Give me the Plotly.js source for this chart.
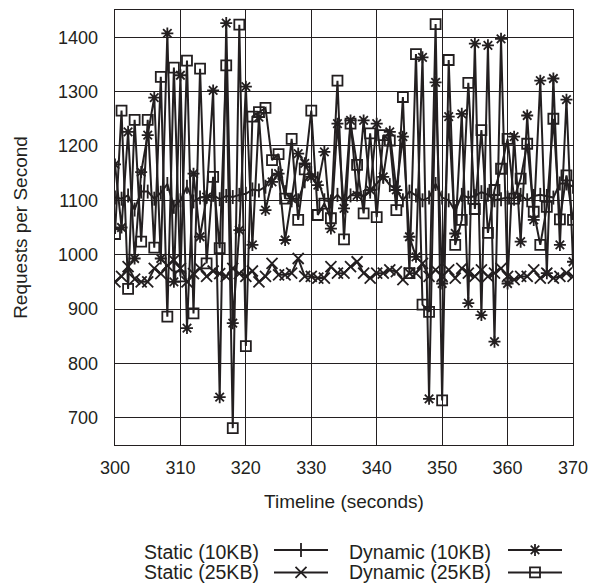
<!DOCTYPE html>
<html>
<head>
<meta charset="utf-8">
<script src="https://cdn.plot.ly/plotly-3.0.1.min.js"></script>
<style>
html,body{margin:0;padding:0;background:#fff;}
#chart{width:607px;height:587px;}
</style>
</head>
<body>
<div id="chart"></div>
<script>
// Time axis (seconds)
const seconds = [];
for (let s = 300; s <= 370; s++) seconds.push(s);

const static10 = [1105,1103,1109,1083,1116,1116,1103,1114,1130,1088,1100,1125,1098,1105,1106,1110,1102,1108,1106,1110,1112,1120,1118,1125,1145,1150,1115,1100,1100,1135,1150,1140,1100,1098,1110,1097,1109,1116,1106,1116,1131,1143,1128,1119,1100,1116,1109,1100,1105,1130,1105,1100,1080,1110,1105,1108,1115,1110,1100,1102,1105,1103,1110,1100,1108,1110,1108,1105,1131,1131,1125];

const static25 = [950,960,978,955,950,950,975,965,980,990,975,950,965,975,960,970,965,960,975,965,960,970,950,960,984,963,963,966,993,960,960,957,957,978,966,966,978,987,966,957,966,966,972,969,954,966,966,984,960,972,960,972,957,975,966,960,972,960,966,975,960,954,960,960,972,957,966,957,960,966,960];

const dynamic10 = [1166,1050,1226,993,1152,1220,1289,993,1407,950,1330,865,1149,1033,1106,1302,738,1426,874,1045,1309,1018,1253,1082,1134,1149,1027,1103,1186,1168,1143,1128,1189,1048,1241,1085,1247,1109,1247,1119,1241,1143,1226,1119,1217,1033,996,1363,735,1317,947,1254,1039,1259,911,1388,889,1385,840,1397,947,1217,1024,1256,1064,1320,966,1324,1018,1285,987];

const dynamic25 = [1038,1265,937,1248,1024,1248,1013,1327,886,1344,960,1357,892,1342,984,1143,1012,1348,681,1423,832,1254,1262,1270,1174,1185,1103,1213,1064,1157,1265,1073,1094,1067,1320,1028,1241,1165,1076,1223,1069,1220,1210,1082,1290,966,1369,908,895,1424,732,1358,1018,1064,1316,1084,1229,1040,1119,1158,1213,1103,1140,1204,1079,1018,1088,1250,1065,1146,1064];

const seriesNames = ['Static (10KB)','Static (25KB)','Dynamic (10KB)','Dynamic (25KB)'];
const xTicks = [300,310,320,330,340,350,360,370];
const yTicks = [700,800,900,1000,1100,1200,1300,1400];

const ink = '#231f20';
const FONT = '"Liberation Sans", Arial, Helvetica, sans-serif';

function tr(y, symbol, size, legend) {
  return {
    x: seconds, y: y, type: 'scatter', mode: 'lines+markers', name: '',
    legend: legend,
    line: {color: ink, width: 2},
    marker: {symbol: symbol, size: size, color: ink, line: {color: ink, width: 1.8}},
    hoverinfo: 'skip'
  };
}

const traces = [
  tr(static10, 'line-ns-open', 10, 'legend'),
  tr(static25, 'x-thin-open', 11, 'legend'),
  tr(dynamic10, 'asterisk-open', 10, 'legend2'),
  tr(dynamic25, 'square-open', 10, 'legend2')
];

const px = v => (v - 115) / 458;
const py = v => (445 - v) / 435;

const legendCommon = {
  orientation: 'v', bgcolor: 'rgba(0,0,0,0)', borderwidth: 0,
  font: {family: FONT, size: 15, color: ink}, tracegroupgap: 0,
  xanchor: 'left', yanchor: 'top', itemwidth: 54, itemclick: false
};

function legendText(txt, xr, yc) {
  return {text: txt, x: px(xr), y: py(yc), xref: 'paper', yref: 'paper',
    xanchor: 'right', yanchor: 'middle', showarrow: false,
    font: {family: FONT, size: 19.5, color: ink}};
}

const layout = {
  width: 607, height: 587,
  margin: {l: 115, r: 34, t: 10, b: 142, autoexpand: false},
  paper_bgcolor: '#fff', plot_bgcolor: '#fff',
  font: {family: FONT, size: 18, color: ink},
  showlegend: true,
  legend: Object.assign({}, legendCommon, {x: px(269), y: py(533.7)}),
  legend2: Object.assign({}, legendCommon, {x: px(503), y: py(533.7)}),
  xaxis: {
    range: [300, 370], tickvals: xTicks, ticktext: xTicks.map(String),
    showgrid: true, gridcolor: ink, gridwidth: 1,
    showline: true, linecolor: ink, linewidth: 1.4, mirror: true,
    ticks: '', ticklabelstandoff: 6, zeroline: false, automargin: false,
    tickfont: {family: FONT, size: 18, color: ink},
    title: {text: 'Timeline (seconds)', font: {family: FONT, size: 19, color: ink}, standoff: 17}
  },
  yaxis: {
    range: [650, 1450], tickvals: yTicks, ticktext: yTicks.map(String),
    showgrid: true, gridcolor: ink, gridwidth: 1,
    showline: true, linecolor: ink, linewidth: 1.4, mirror: true,
    ticks: '', ticklabelstandoff: 12, zeroline: false, automargin: false,
    tickfont: {family: FONT, size: 18, color: ink},
    title: {text: 'Requests per Second', font: {family: FONT, size: 19, color: ink}, standoff: 25}
  },
  annotations: [
    legendText(seriesNames[0], 261, 551.7),
    legendText(seriesNames[1], 261, 571.7),
    legendText(seriesNames[2], 493, 551.7),
    legendText(seriesNames[3], 493, 571.7)
  ]
};

Plotly.newPlot('chart', traces, layout, {staticPlot: true, displayModeBar: false});
</script>
</body>
</html>
